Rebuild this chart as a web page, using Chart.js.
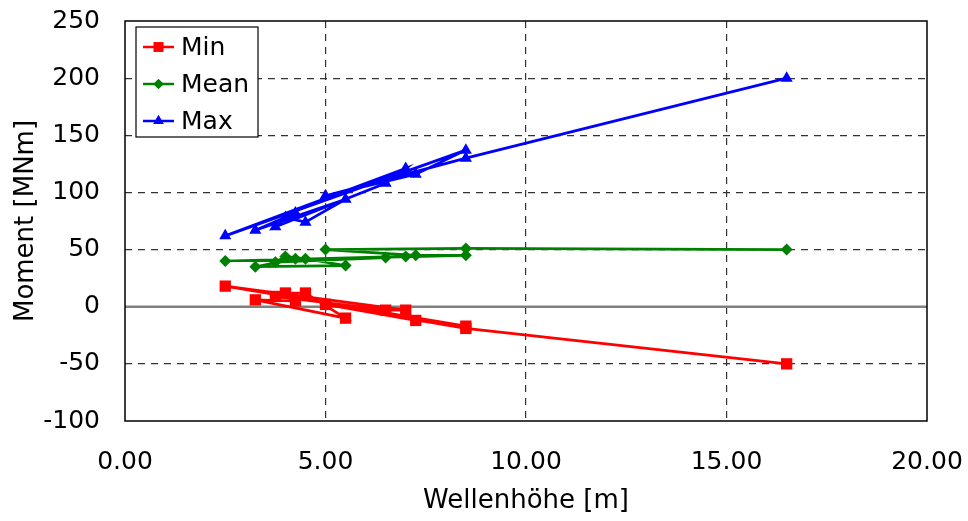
<!DOCTYPE html>
<html>
<head>
<meta charset="utf-8">
<script src="https://cdn.jsdelivr.net/npm/chart.js@4"></script>
<style>
  html, body { margin: 0; padding: 0; background: #fff; }
  #wrap { width: 968px; height: 521px; position: relative; }
</style>
</head>
<body>
<div id="wrap"><canvas id="c"></canvas></div>
<script>
// Wave height (x) in the order the points are connected
const waveHeight = [4.25, 3.25, 5.5, 4.5, 4.0, 3.75, 6.5, 7.0, 2.5, 8.5, 7.25, 5.0, 8.5, 16.5];
const minValues  = [5, 6, -10, 12, 12, 9, -3, -3, 18, -17, -12, 2, -19, -50];
const meanValues = [42, 35, 36, 42, 44, 39, 43, 44, 40, 45, 45, 50, 51, 50];
const maxValues  = [82, 67, 94, 74, 78, 70, 108, 121, 62, 137, 116, 97, 130, 200];
const seriesNames = ['Min', 'Mean', 'Max'];
const xTicks = [0, 5, 10, 15, 20];
const yTicks = [-100, -50, 0, 50, 100, 150, 200, 250];

const FONT = "'DejaVu Sans', Verdana, sans-serif";

function pts(vals) { return waveHeight.map((x, i) => ({ x: x, y: vals[i] })); }

const styles = [
  { color: '#FF0000', pointStyle: 'rect', radius: 8 },
  { color: '#008000', pointStyle: 'rectRot', radius: 6 },
  { color: '#0000FF', pointStyle: 'triangle', radius: 7 }
];
const seriesData = [minValues, meanValues, maxValues];

const datasets = seriesNames.map((name, i) => ({
  label: name,
  data: pts(seriesData[i]),
  showLine: true,
  borderColor: styles[i].color,
  backgroundColor: styles[i].color,
  borderWidth: 2.7,
  pointStyle: styles[i].pointStyle,
  pointRadius: styles[i].radius,
  pointHoverRadius: styles[i].radius,
  pointBorderWidth: 0,
  tension: 0
}));

const frame = {
  id: 'frame',
  beforeDatasetsDraw(chart) {
    const { ctx, chartArea: a, scales } = chart;
    const y0 = scales.y.getPixelForValue(0);
    ctx.save();
    ctx.strokeStyle = '#808080';
    ctx.lineWidth = 2.5;
    ctx.beginPath();
    ctx.moveTo(a.left, y0);
    ctx.lineTo(a.right, y0);
    ctx.stroke();
    ctx.restore();
  },
  afterDatasetsDraw(chart) {
    const { ctx, chartArea: a } = chart;
    ctx.save();
    ctx.strokeStyle = '#000';
    ctx.lineWidth = 1.5;
    ctx.strokeRect(a.left, a.top, a.right - a.left, a.bottom - a.top);
    // legend box
    const lx = a.left + 11, ly = a.top + 6, lw = 122, lh = 110;
    ctx.fillStyle = '#fff';
    ctx.fillRect(lx, ly, lw, lh);
    ctx.lineWidth = 1.2;
    ctx.strokeRect(lx, ly, lw, lh);
    ctx.font = '25px ' + FONT;
    ctx.textBaseline = 'middle';
    const rows = [20, 57, 94];
    chart.data.datasets.forEach((ds, i) => {
      const yy = ly + rows[i];
      ctx.strokeStyle = ds.borderColor;
      ctx.lineWidth = 2.5;
      ctx.beginPath();
      ctx.moveTo(lx + 7, yy);
      ctx.lineTo(lx + 38, yy);
      ctx.stroke();
      ctx.fillStyle = ds.backgroundColor;
      Chart.helpers.drawPoint(ctx, { pointStyle: ds.pointStyle, radius: ds.pointRadius * 0.85, borderWidth: 0, rotation: 0 }, lx + 22.5, yy);
      ctx.fill();
      ctx.fillStyle = '#000';
      ctx.fillText(ds.label, lx + 45, yy + 1);
    });
    ctx.restore();
  }
};

function gridColor(ctx, edges) {
  const v = ctx.tick ? ctx.tick.value : null;
  return edges.includes(v) ? 'rgba(0,0,0,0)' : '#333';
}

new Chart(document.getElementById('c'), {
  type: 'scatter',
  data: { datasets: datasets },
  options: {
    responsive: true,
    maintainAspectRatio: false,
    animation: false,
    layout: { padding: { top: 21, right: 41, left: 0, bottom: 0 } },
    plugins: { legend: { display: false }, tooltip: { enabled: false } },
    scales: {
      x: {
        type: 'linear',
        min: 0, max: 20,
        afterBuildTicks: s => { s.ticks = xTicks.map(v => ({ value: v })); },
        afterFit: s => { s.height = 100; },
        ticks: {
          font: { family: FONT, size: 25 },
          color: '#000',
          padding: 0,
          maxRotation: 0,
          callback: v => Number(v).toFixed(2)
        },
        grid: {
          drawTicks: true,
          tickLength: 26,
          tickColor: 'rgba(0,0,0,0)',
          lineWidth: 1.2,
          color: c => gridColor(c, [0, 20])
        },
        border: { display: false, dash: [7, 6] },
        title: {
          display: true,
          text: 'Wellenhöhe [m]',
          font: { family: FONT, size: 26 },
          color: '#000',
          padding: { top: 0, bottom: 4 }
        }
      },
      y: {
        type: 'linear',
        min: -100, max: 250,
        afterBuildTicks: s => { s.ticks = yTicks.map(v => ({ value: v })); },
        afterFit: s => { s.width = 125; },
        ticks: {
          font: { family: FONT, size: 25 },
          color: '#000',
          padding: 0
        },
        grid: {
          drawTicks: true,
          tickLength: 25,
          tickColor: 'rgba(0,0,0,0)',
          lineWidth: 1.2,
          color: c => gridColor(c, [-100, 0, 250])
        },
        border: { display: false, dash: [7, 6] },
        title: {
          display: true,
          text: 'Moment [MNm]',
          font: { family: FONT, size: 26 },
          color: '#000',
          padding: { top: 11, bottom: 0 }
        }
      }
    }
  },
  plugins: [frame]
});
</script>
</body>
</html>
